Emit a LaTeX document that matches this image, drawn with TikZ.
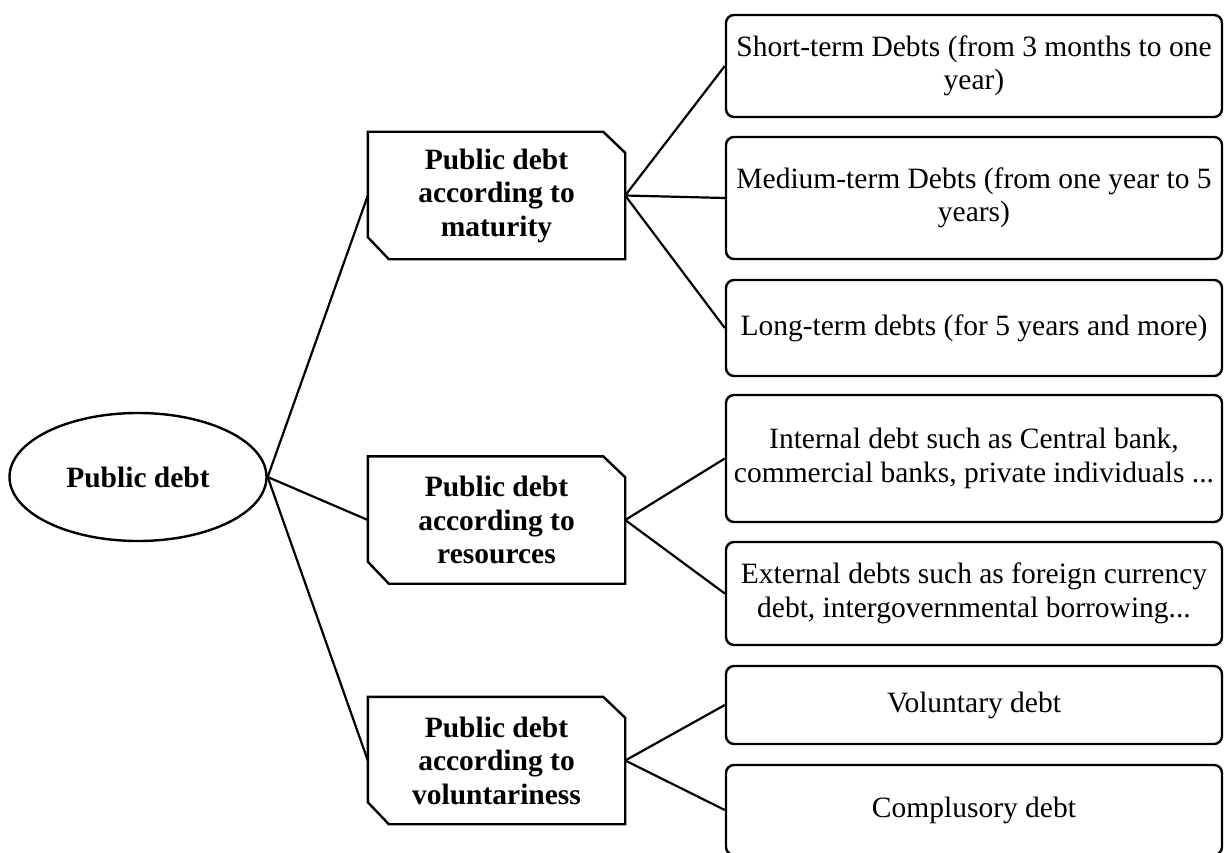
\documentclass[tikz,border=0pt]{standalone}
\usepackage{fontspec}
\setmainfont{Liberation Serif}
\usetikzlibrary{shapes.geometric}
\begin{document}
\begin{tikzpicture}[x=1pt,y=-1pt,
  every node/.style={font=\fontsize{29.5}{33.5}\selectfont, align=center, inner sep=0pt},
  outline/.style={line width=2.4pt, line join=miter},
  rootnode/.style={ellipse, draw, line width=2.4pt, minimum width=257pt, minimum height=128pt, font=\fontsize{29.5}{33.5}\selectfont\bfseries},
  midbox/.style={rectangle, minimum width=257pt, minimum height=127pt, font=\fontsize{29.5}{33.5}\selectfont\bfseries},
  leafbox/.style={rectangle, draw, line width=2.4pt, rounded corners=8pt, minimum width=496pt},
  link/.style={line width=2.2pt}
]
\useasboundingbox (0,0) rectangle (1226,853);
\clip (0,0) rectangle (1226,853);

% root
\node[rootnode] (root) at (138,477) {Public debt};

% classification boxes (outline with two cut corners drawn below)
\node[midbox] (mat) at (496.5,195.5) {Public debt\\according to\\maturity};
\node[midbox] (res) at (496.5,520) {Public debt\\according to\\resources};
\node[midbox] (vol) at (496.5,760.5) {Public debt\\according to\\voluntariness};

\foreach \m in {mat,res,vol}{
  \draw[outline] (\m.north west) -- ([xshift=-22pt]\m.north east)
    -- ([yshift=-21pt]\m.north east) -- (\m.south east)
    -- ([xshift=21pt]\m.south west) -- ([yshift=22pt]\m.south west) -- cycle;
}

% leaf boxes
\node[leafbox, minimum height=102pt] (short) at (974,66) {Short-term Debts (from 3 months to one\\year)};
\node[leafbox, minimum height=122pt] (medium) at (974,198) {Medium-term Debts (from one year to 5\\years)};
\node[leafbox, minimum height=96pt] (long) at (974,328) {Long-term debts (for 5 years and more)};
\node[leafbox, minimum height=127pt] (internal) at (974,458.5) {Internal debt such as Central bank,\\commercial banks, private individuals ...};
\node[leafbox, minimum height=103pt] (external) at (974,593.5) {External debts such as foreign currency\\debt, intergovernmental borrowing...};
\node[leafbox, minimum height=78pt] (voluntary) at (974,705) {Voluntary debt};
\node[leafbox, minimum height=90pt] (compulsory) at (974,810) {Complusory debt};

% connectors
\draw[link] (root.east) -- (mat.west);
\draw[link] (root.east) -- (res.west);
\draw[link] (root.east) -- (vol.west);

\draw[link] (mat.east) -- (short.west);
\draw[link] (mat.east) -- (medium.west);
\draw[link] (mat.east) -- (long.west);

\draw[link] (res.east) -- (internal.west);
\draw[link] (res.east) -- (external.west);

\draw[link] (vol.east) -- (voluntary.west);
\draw[link] (vol.east) -- (compulsory.west);
\end{tikzpicture}
\end{document}
